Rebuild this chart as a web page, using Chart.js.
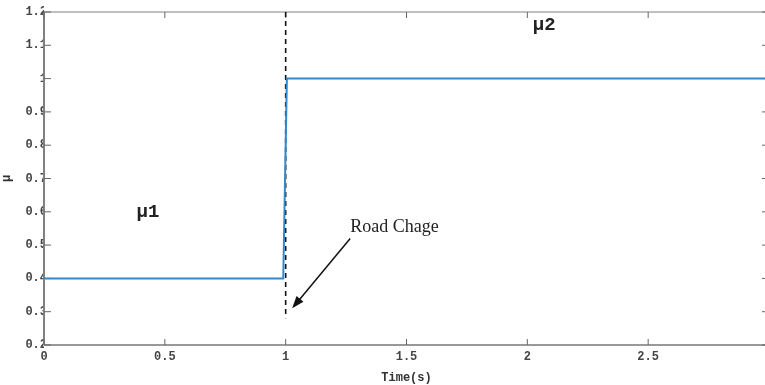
<!DOCTYPE html>
<html>
<head>
    <script src="https://cdn.jsdelivr.net/npm/chart.js"></script>
    <style>
        html, body { margin: 0; padding: 0; background: #fff; overflow: hidden; }
        #wrap { width: 769px; height: 385px; }
    </style>
</head>
<body>
<div id="wrap"><canvas id="chart"></canvas></div>
<script>
    // step response data, time (s) and friction coefficient
    var timeVals = [0, 0.99, 1.005, 3];
    var muVals = [0.4, 0.4, 1.0, 1.0];
    var xTicks = [0, 0.5, 1, 1.5, 2, 2.5, 3];
    var yTicks = [0.2, 0.3, 0.4, 0.5, 0.6, 0.7, 0.8, 0.9, 1, 1.1, 1.2];
    var changeTime = 1;
    var changeLine = { from: 1.2, to: 0.28 };
    var arrow = { x0: 1.267, y0: 0.52, x1: 1.027, y1: 0.31 };
    var notes = [
        { text: "μ1", x: 0.43, y: 0.6, font: "bold 19px 'Liberation Mono'" },
        { text: "μ2", x: 2.07, y: 1.16, font: "bold 19px 'Liberation Mono'" },
        { text: "Road Chage", x: 1.267, y: 0.555, font: "18px 'Liberation Serif'", left: true }
    ];

    var points = timeVals.map(function (t, i) { return { x: t, y: muVals[i] }; });
    var monoFont = { family: "'Liberation Mono', monospace", size: 12, weight: "bold" };
    var fmt = function (v) { return String(Math.round(v * 10) / 10); };

    // frame, inward ticks, dashed line, arrow and notes
    var decor = {
        id: "decor",
        beforeDatasetsDraw: function (chart) {
            var c = chart.ctx, a = chart.chartArea;
            var xs = chart.scales.x, ys = chart.scales.y;
            c.save();
            c.strokeStyle = "#808080";
            c.lineWidth = 1;
            c.beginPath();
            c.moveTo(a.left, a.top); c.lineTo(a.right, a.top);
            c.moveTo(a.right, a.top); c.lineTo(a.right, a.bottom);
            c.stroke();
            c.lineWidth = 2;
            c.beginPath();
            c.moveTo(a.left, a.top); c.lineTo(a.left, a.bottom);
            c.stroke();
            c.strokeStyle = "#333";
            c.lineWidth = 1;
            c.beginPath();
            c.moveTo(a.left, a.bottom); c.lineTo(a.right, a.bottom);
            c.stroke();
            c.strokeStyle = "#666";
            c.beginPath();
            xTicks.forEach(function (v) {
                var px = xs.getPixelForValue(v);
                c.moveTo(px, a.bottom); c.lineTo(px, a.bottom - 6);
                c.moveTo(px, a.top); c.lineTo(px, a.top + 6);
            });
            yTicks.forEach(function (v) {
                var py = ys.getPixelForValue(v);
                c.moveTo(a.left, py); c.lineTo(a.left + 7, py);
                c.moveTo(a.right, py); c.lineTo(a.right - 7, py);
            });
            c.stroke();
            // road change marker
            var lx = xs.getPixelForValue(changeTime);
            c.strokeStyle = "#111";
            c.lineWidth = 1.6;
            c.setLineDash([5, 4]);
            c.beginPath();
            c.moveTo(lx, ys.getPixelForValue(changeLine.from));
            c.lineTo(lx, ys.getPixelForValue(changeLine.to));
            c.stroke();
            c.restore();
        },
        afterDatasetsDraw: function (chart) {
            var c = chart.ctx;
            var xs = chart.scales.x, ys = chart.scales.y;
            c.save();
            var x0 = xs.getPixelForValue(arrow.x0), y0 = ys.getPixelForValue(arrow.y0);
            var x1 = xs.getPixelForValue(arrow.x1), y1 = ys.getPixelForValue(arrow.y1);
            var ang = Math.atan2(y1 - y0, x1 - x0);
            c.strokeStyle = "#111";
            c.fillStyle = "#111";
            c.lineWidth = 1.5;
            c.beginPath();
            c.moveTo(x0, y0);
            c.lineTo(x1 - 6 * Math.cos(ang), y1 - 6 * Math.sin(ang));
            c.stroke();
            c.beginPath();
            c.moveTo(x1, y1);
            c.lineTo(x1 - 13 * Math.cos(ang - 0.35), y1 - 13 * Math.sin(ang - 0.35));
            c.lineTo(x1 - 13 * Math.cos(ang + 0.35), y1 - 13 * Math.sin(ang + 0.35));
            c.closePath();
            c.fill();
            c.fillStyle = "#222";
            c.textBaseline = "middle";
            notes.forEach(function (n) {
                c.font = n.font;
                c.textAlign = n.left ? "left" : "center";
                c.fillText(n.text, xs.getPixelForValue(n.x), ys.getPixelForValue(n.y));
            });
            c.restore();
        }
    };

    var chart = new Chart(document.getElementById("chart").getContext("2d"), {
        type: "line",
        data: {
            datasets: [{
                data: points,
                borderColor: "#3189cc",
                borderWidth: 2,
                pointRadius: 0,
                fill: false,
                tension: 0
            }]
        },
        options: {
            responsive: true,
            maintainAspectRatio: false,
            animation: false,
            layout: { padding: { top: 12, right: 0, left: 0, bottom: 0 } },
            plugins: { legend: { display: false }, tooltip: { enabled: false } },
            scales: {
                x: {
                    type: "linear",
                    min: 0, max: 3,
                    afterBuildTicks: function (s) { s.ticks = xTicks.map(function (v) { return { value: v }; }); },
                    afterFit: function (s) { s.height = 40; s.paddingLeft = 0; s.paddingRight = 0; },
                    grid: { display: false, drawTicks: false },
                    border: { display: false },
                    ticks: { font: monoFont, color: "#444", padding: 5, maxRotation: 0, autoSkip: false, callback: fmt },
                    title: { display: true, text: "Time(s)", font: monoFont, color: "#333", padding: { top: 0, bottom: 0 } }
                },
                y: {
                    min: 0.2, max: 1.2,
                    afterBuildTicks: function (s) { s.ticks = yTicks.map(function (v) { return { value: v }; }); },
                    afterFit: function (s) { s.width = 44; s.paddingTop = 0; s.paddingBottom = 0; },
                    grid: { display: false, drawTicks: false },
                    border: { display: false },
                    ticks: { font: monoFont, color: "#444", padding: -3, autoSkip: false, callback: fmt },
                    title: { display: true, text: "μ", font: monoFont, color: "#333", padding: { top: 0, bottom: 2 } }
                }
            }
        },
        plugins: [decor]
    });
</script>
</body>
</html>
